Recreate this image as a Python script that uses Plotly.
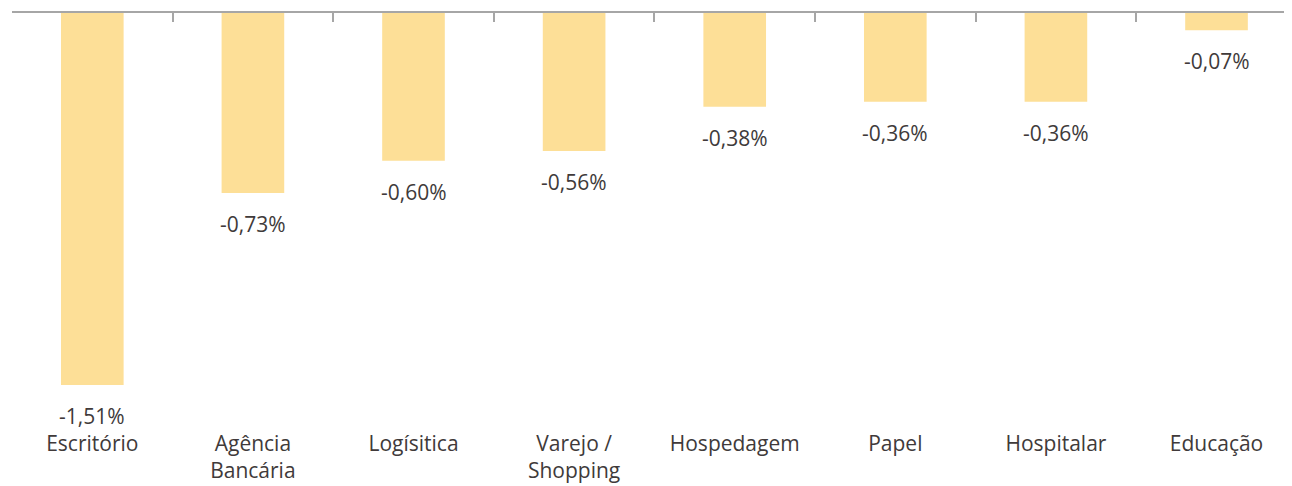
import plotly.graph_objects as go

categories = ["Escritório", "Agência<br>Bancária", "Logísitica", "Varejo /<br>Shopping",
              "Hospedagem", "Papel", "Hospitalar", "Educação"]
values = [-1.51, -0.73, -0.60, -0.56, -0.38, -0.36, -0.36, -0.07]
labels = [f"{v:.2f}%".replace(".", ",") for v in values]

BAR = "#FDDF97"
TXT = "#403A3A"
FONT = "Open Sans"
FS = 21

idx = list(range(len(categories)))
fig = go.Figure()
fig.add_trace(go.Bar(x=idx, y=values, marker=dict(color=BAR, line=dict(width=0)),
                     width=0.39, hoverinfo="skip"))

for i, v, t in zip(idx, values, labels):
    fig.add_annotation(x=i, y=v, text=t, showarrow=False, yanchor="top", yshift=-15,
                       font=dict(family=FONT, size=FS, color=TXT))

boundaries = [i - 0.5 for i in range(len(categories) + 1)]
xr = [-0.5, 7.47]
fig.update_layout(
    width=1284, height=478,
    margin=dict(l=4, r=0, t=5, b=61),
    paper_bgcolor="white", plot_bgcolor="white",
    showlegend=False,
    font=dict(family=FONT, size=FS, color=TXT),
    xaxis=dict(range=xr, tickmode="array", tickvals=idx, ticktext=categories,
               showline=False, showgrid=False, zeroline=False, ticks="",
               ticklabelstandoff=4,
               tickfont=dict(family=FONT, size=FS, color=TXT)),
    xaxis2=dict(range=xr, overlaying="x", side="top", anchor="y", tickmode="array",
                tickvals=boundaries, showticklabels=False, ticks="inside", ticklen=9,
                tickcolor="#A6A6A6", tickwidth=2, showline=True, linecolor="#A6A6A6",
                linewidth=2, showgrid=False, zeroline=False),
    yaxis=dict(range=[-1.672, 0], visible=False, showgrid=False, zeroline=False),
)
fig.add_trace(go.Scatter(x=[None], y=[None], xaxis="x2", yaxis="y", showlegend=False,
                         hoverinfo="skip"))
fig.write_html("out.html")
